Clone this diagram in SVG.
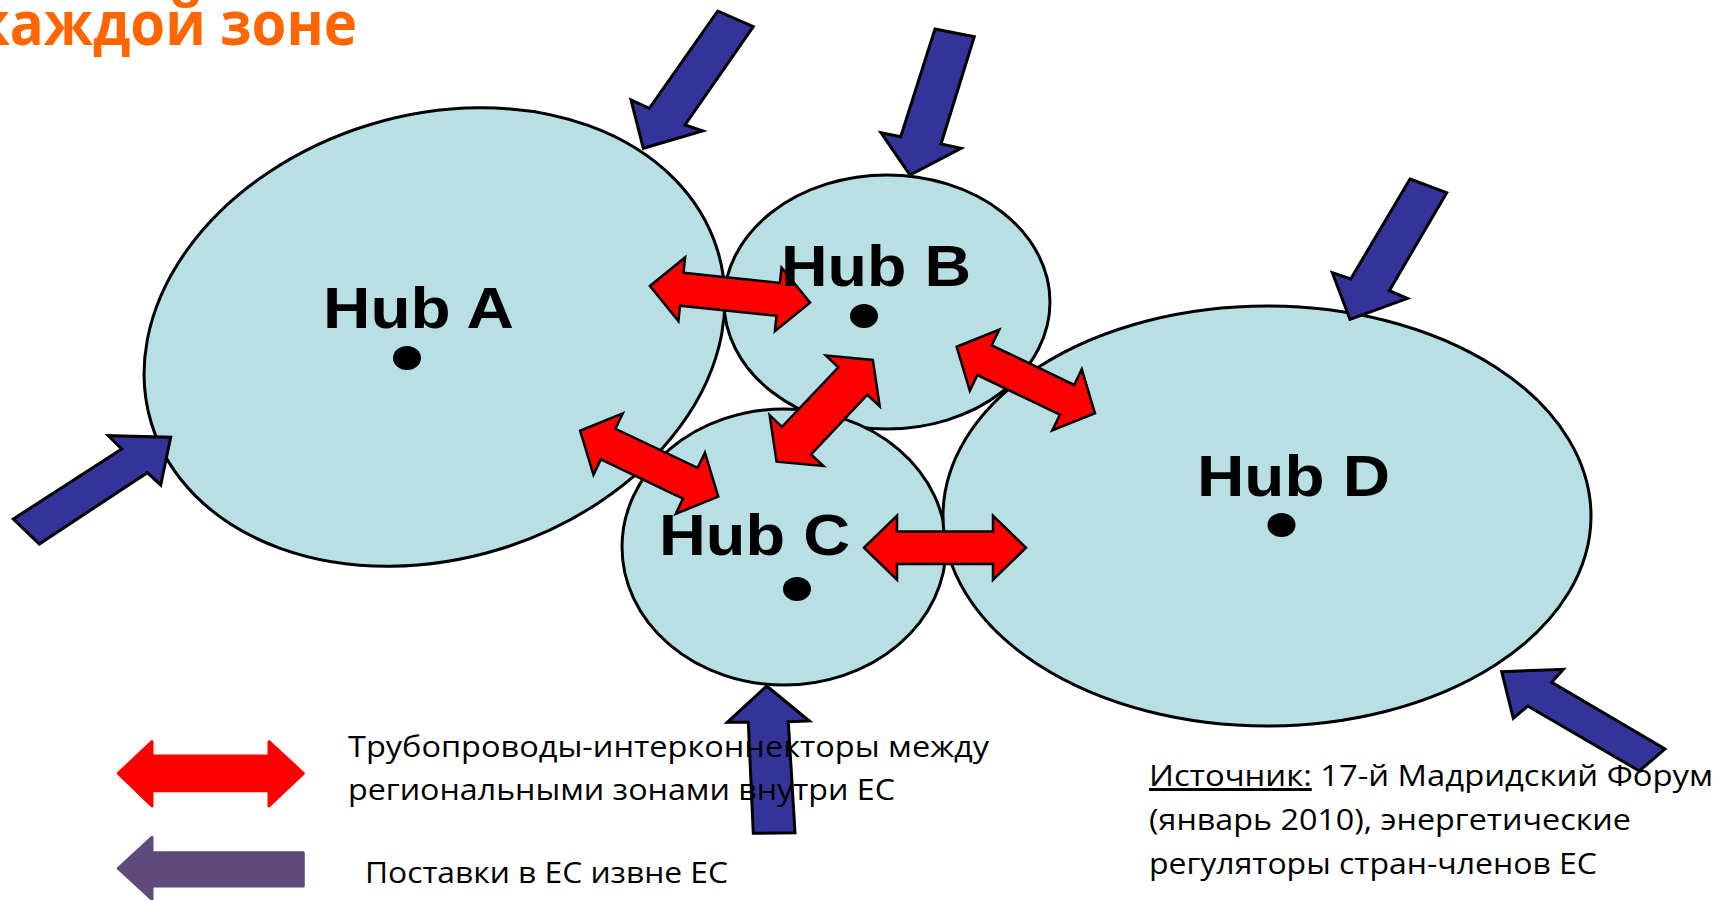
<svg xmlns="http://www.w3.org/2000/svg" width="1716" height="900" viewBox="0 0 1716 900">
<style>
.hub{fill:#B8DFE3;stroke:#000;stroke-width:3}
.dot{fill:#000}
.inflow{fill:#333399;stroke:#000;stroke-width:3;stroke-linejoin:miter}
.link{fill:#FF0000;stroke:#000;stroke-width:2.5;stroke-linejoin:miter}
.hublabel{font-family:"Liberation Sans",Arial,sans-serif;font-weight:bold;font-size:57px;fill:#000}
.txt{font-family:"Open Sans","Noto Sans",sans-serif;font-size:30px;fill:#000}
.title{font-family:"Open Sans","Noto Sans",sans-serif;font-weight:bold;font-size:60px;fill:#FF6600}
</style>
<rect width="1716" height="900" fill="#fff"/>
<text class="title" x="-25" y="45" textLength="382" lengthAdjust="spacingAndGlyphs">каждой зоне</text>

<g id="hubA">
<ellipse class="hub" cx="434.5" cy="337" rx="296" ry="222" transform="rotate(-17 434.5 337)"/>
<ellipse class="dot" cx="407" cy="358" rx="14" ry="12"/>
</g>
<g id="hubB">
<ellipse class="hub" cx="887" cy="302" rx="163" ry="127"/>
<ellipse class="dot" cx="864" cy="316" rx="14" ry="12"/>
</g>
<g id="hubC">
<ellipse class="hub" cx="784" cy="547" rx="162" ry="138"/>
<ellipse class="dot" cx="797" cy="589" rx="14" ry="12"/>
</g>
<g id="hubD">
<ellipse class="hub" cx="1267" cy="516" rx="324" ry="210"/>
<ellipse class="dot" cx="1281.5" cy="525" rx="14" ry="12"/>
</g>

<g id="connectors">
<polygon class="inflow" points="717.7,11 753.3,26.7 685,125 702.7,131 643.3,148.3 631,100 649.3,108.3"/>
<polygon class="inflow" points="935,29 974.3,36.7 941,144 961,148.3 910,175 881,132.7 900.7,136.7"/>
<polygon class="inflow" points="1410,179 1446.7,192.7 1389.3,290.7 1407.3,298.3 1350,319.3 1332.3,272.7 1350.7,279"/>
<polygon class="inflow" points="13.3,519 121.7,449 108.3,435.7 170.7,437.3 160.7,485 147.3,472.7 39.3,544"/>
<polygon class="inflow" points="766.7,686 809.3,721 788.3,721.7 795,832.7 753.3,833.3 748.3,722.3 727.3,722.3"/>
<polygon class="inflow" points="1501.7,671.7 1563.3,669.3 1551.7,682.3 1665,749 1639.3,771 1527.7,706 1513.3,718.3"/>

<polygon class="link" transform="translate(730,294.3) rotate(5.96)" points="-80.5,0 -48.5,-32 -48.5,-16.5 48.5,-16.5 48.5,-32 80.5,0 48.5,32 48.5,16.5 -48.5,16.5 -48.5,32"/>
<polygon class="link" transform="translate(649.2,463.7) rotate(25.5)" points="-76.5,0 -45.5,-34 -45.5,-17 45.5,-17 45.5,-34 76.5,0 45.5,34 45.5,17 -45.5,17 -45.5,34"/>
<polygon class="link" transform="translate(824.7,410.8) rotate(-46.6)" points="-70,0 -41,-37 -41,-20 41,-20 41,-37 70,0 41,37 41,20 -41,20 -41,37"/>
<polygon class="link" transform="translate(1025.8,380) rotate(25.7)" points="-76.75,0 -45.75,-34 -45.75,-16.5 45.75,-16.5 45.75,-34 76.75,0 45.75,34 45.75,16.5 -45.75,16.5 -45.75,34"/>
<polygon class="link" transform="translate(945,547.7)" points="-81,0 -48,-32 -48,-16.3 48,-16.3 48,-32 81,0 48,32 48,16.3 -48,16.3 -48,32"/>
</g>

<g id="labels">
<text class="hublabel" x="323" y="328" textLength="191" lengthAdjust="spacingAndGlyphs">Hub A</text>
<text class="hublabel" x="781" y="286" textLength="190" lengthAdjust="spacingAndGlyphs">Hub B</text>
<text class="hublabel" x="659" y="555" textLength="191" lengthAdjust="spacingAndGlyphs">Hub C</text>
<text class="hublabel" x="1197" y="496" textLength="193" lengthAdjust="spacingAndGlyphs">Hub D</text>
</g>

<g id="legend">
<polygon fill="#FF0000" stroke="#FF0000" stroke-width="3" stroke-linejoin="round" points="118.3,773.3 152,741.7 152,756 269,756 269,741.7 303.3,773.3 269,806 269,790.7 152,790.7 152,806"/>
<polygon fill="#604A7B" stroke="#604A7B" stroke-width="3" stroke-linejoin="round" points="118.3,868.3 152,837.3 152,852.7 303.3,852.7 303.3,886 152,886 152,899.3"/>
<text class="txt" x="348" y="757" textLength="641" lengthAdjust="spacingAndGlyphs">Трубопроводы-интерконнекторы между</text>
<text class="txt" x="348" y="800" textLength="547" lengthAdjust="spacingAndGlyphs">региональными зонами внутри ЕС</text>
<text class="txt" x="365" y="883" textLength="363" lengthAdjust="spacingAndGlyphs">Поставки в ЕС извне ЕС</text>
</g>

<g id="source">
<text class="txt" x="1149" y="786" textLength="564" lengthAdjust="spacingAndGlyphs"><tspan text-decoration="underline">Источник:</tspan> 17-й Мадридский Форум</text>
<text class="txt" x="1149" y="830" textLength="482" lengthAdjust="spacingAndGlyphs">(январь 2010), энергетические</text>
<text class="txt" x="1149" y="874" textLength="448" lengthAdjust="spacingAndGlyphs">регуляторы стран-членов ЕС</text>
</g>
</svg>
